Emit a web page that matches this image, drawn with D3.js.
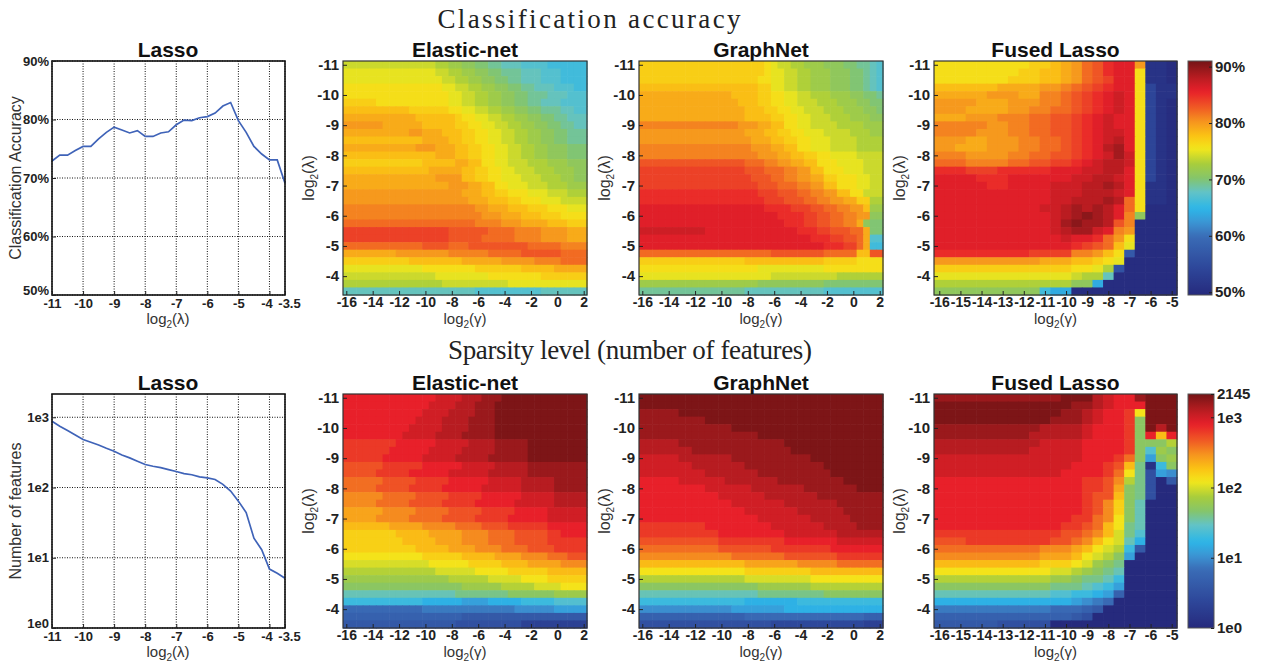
<!DOCTYPE html>
<html>
<head>
<meta charset="utf-8">
<script src="https://cdn.jsdelivr.net/npm/d3@7"></script>
<style>
body { margin: 0; background: #fff; }
text { font-family: "Liberation Sans", Arial, sans-serif; }
</style>
</head>
<body>
<svg id="chart" width="1266" height="667"></svg>
<script>
// ---- data ----
var lassoLambda = [-11, -10.75, -10.5, -10.25, -10, -9.75, -9.5, -9.25, -9, -8.75, -8.5, -8.25, -8, -7.75, -7.5, -7.25,
                   -7, -6.75, -6.5, -6.25, -6, -5.75, -5.5, -5.25, -5, -4.75, -4.5, -4.25, -4, -3.75, -3.5];
var lassoAcc = [72.9, 73.9, 73.9, 74.7, 75.4, 75.4, 76.7, 77.8, 78.7, 78.2, 77.7, 78.1, 77.1, 77.1, 77.7, 77.9,
                79.1, 79.9, 79.8, 80.3, 80.5, 81.1, 82.3, 82.9, 79.8, 77.8, 75.4, 74.1, 73.1, 73.1, 69.1];
var lassoFeat = [877, 745, 647, 561, 482, 441, 404, 362, 328, 291, 264, 237, 213, 201, 192, 180,
                 169, 158, 152, 142, 137, 130, 111, 89, 64, 44, 19, 13, 6.9, 6.0, 5.1];

var lambdaGrid = lassoLambda;   // heat-map rows, top = -11
var gammaGrid = [-16, -15.5, -15, -14.5, -14, -13.5, -13, -12.5, -12, -11.5, -11, -10.5, -10, -9.5, -9, -8.5, -8,
                 -7.5, -7, -6.5, -6, -5.5, -5, -4.5, -4, -3.5, -3, -2.5, -2, -1.5, -1, -0.5, 0, 0.5, 1, 1.5, 2];
var gammaFused = [-16, -15.5, -15, -14.5, -14, -13.5, -13, -12.5, -12, -11.5, -11, -10.5, -10, -9.5, -9, -8.5, -8,
                  -7.5, -7, -6.5, -6, -5.5, -5];

var lassoXTicks = [-11, -10, -9, -8, -7, -6, -5, -4, -3.5];
var accTicks = [50, 60, 70, 80, 90];
var featTicks = [1, 10, 100, 1000];
var featTickLabels = ['1e0', '1e1', '1e2', '1e3'];
var featBarTicks = [1, 10, 100, 1000, 2145];
var featBarLabels = ['1e0', '1e1', '1e2', '1e3', '2145'];
var lambdaTicks = [-11, -10, -9, -8, -7, -6, -5, -4];
var gammaTicks = [-16, -14, -12, -10, -8, -6, -4, -2, 0, 2];
var gammaFusedTicks = [-16, -15, -14, -13, -12, -11, -10, -9, -8, -7, -6, -5];

// heat-map cells, one row per lambda, run-length coded: level char + repeat count
// accuracy level char -> 50 + index (%)
var ACC_LEVELS = '0123456789abcdefghijklmnopqrstuvwxyzABCDEFG';
// sparsity level char -> 10^(index/10) features
var FEAT_LEVELS = '0123456789abcdefghijklmnopqrstuvwx';

var enAcc = [
  'o14 n2 m2 l2 k2 j2 i3 h4 g6', 'p14 o2 n2 m2 l2 k2 j3 i3 h3 g4', 'p15 o2 n2 m2 l2 k2 j2 i3 h3 g4',
  'q15 p2 o2 n2 m2 l2 k2 j2 i3 h3 g2', 'q16 p2 o2 n2 m2 l2 k2 j3 i3 h3', 'r5 q11 p2 o2 n2 m2 l2 k2 j2 i3 h4',
  's10 r6 q2 p2 o2 n2 m2 l2 k2 j3 i2 h2', 't11 s6 r1 q2 p2 o2 n2 m2 l2 k2 j2 i3',
  'u6 t6 s5 r2 q2 p2 o2 n2 m2 l2 k2 j2 i2', 't10 u2 t3 s3 r2 q2 p2 o2 n2 m2 l2 k2 j3',
  's12 t4 s2 r2 q2 p2 o2 n2 m2 l2 k2 j3', 't11 u3 t3 s2 r2 q2 p2 o2 n2 m2 l3 k3',
  's14 t3 s2 r2 q2 p2 o2 n2 m2 l3 k3', 'r12 s5 t2 s2 q2 p2 o3 n3 m3 l3', 's13 t5 s2 r2 q2 p2 o3 n3 m3 l2',
  't14 u4 s2 r2 q2 p3 o3 n3 m2 l2', 't16 u3 t2 s2 q2 p3 o3 n3 m3', 'u18 t3 s2 r2 q3 p3 o3 n3',
  'u19 t3 s3 r2 q3 p3 o4', 'v20 u2 t3 s3 r3 q3 p3', 'v21 u3 t3 s3 r3 q4', 'w20 v4 u3 t4 s3 r3',
  'y16 x6 w4 v4 u4 t3', 'y16 x5 w5 v4 u4 t3', 'w12 x4 w3 x9 w5 v4', 't8 u8 v6 w5 x6 w4',
  'r10 s8 t6 u5 v4 w4', 'p12 q8 r7 s5 t5', 'o14 p8 q8 r7', 'n15 o10 p12', 'i20 h10 i7'
];
var gnAcc = [
  'r19 q1 p1 o2 n2 m3 l3 k2 j2 i1 h1', 'r19 q1 p2 o2 n2 m3 l3 k2 j1 i1 h1', 'r18 q2 p2 o2 n2 m3 l3 k2 j1 i1 h1',
  's18 r2 p2 o2 n2 m3 l3 k2 j1 i1 h1', 't14 s4 r2 q2 p2 o2 n3 m3 l2 k2 j1', 't15 s3 r2 q2 p2 o3 n3 m3 l2 k2',
  't16 s3 r2 q2 p2 o3 n3 m3 l2 k1', 't16 s4 r2 q2 p2 o3 n3 m3 l2', 'v15 u3 t2 s2 q2 p2 o4 n4 m3',
  'u16 t3 s2 r2 q2 p3 o4 n3 m2', 'u17 t3 s2 r2 q2 p3 o4 n4', 'v17 u3 t2 s2 q2 p3 o4 n4',
  'v18 u3 t2 s2 r2 q2 p4 o4', 'x16 w3 v2 u2 t2 s2 q3 p4 o3', 'y16 x3 w3 v2 u2 s2 q3 p3 o3',
  'y17 x3 w2 v2 u2 t2 r2 q3 p2 o2', 'y18 x3 w3 v2 u2 s2 q3 p2 o2', 'z18 y3 x3 w2 v2 u2 s2 q2 o3',
  'z19 y3 x3 w2 v2 u2 t2 r2 n2', 'A19 z4 y3 x2 w2 v2 u2 s1 m2', 'A21 z4 y2 x2 w2 v2 u2 l2',
  'A22 z3 y2 x2 w2 v2 t1 l1 k2', 'B10 A14 z3 y2 x3 w2 t1 k2', 'A26 z3 y2 x2 w1 t1 h2',
  'A28 z3 y2 w1 t1 g2', 'w20 x8 w5 s2 x2', 'r16 s12 r5 q4', 'q18 p10 q9', 'p20 o10 n7',
  'm18 l10 k9', 'j16 i12 h9'
];
var flAcc = [
  'q9 r2 s1 t1 u1 w1 x1 z1 A2 u1 11 11 01', 'q8 r2 s2 t1 u1 w1 x1 z1 A2 q1 11 11 01',
  'q7 r3 s2 t1 u1 w1 x1 y1 A2 q1 11 11 01', 's6 t4 u2 v1 w1 x1 y1 z1 A2 q1 41 11 11',
  't5 u3 t2 v2 w1 x1 y1 z1 A1 B1 A1 q1 41 11 11', 'u4 t3 u3 v2 w1 x1 y1 z1 A1 B1 A1 q1 41 11 01',
  'u3 t4 u2 v2 w2 x1 y1 z1 A1 B1 A1 q1 41 11 01', 't3 u3 v3 w2 x2 y1 z1 A1 B1 A1 A1 q1 41 11 01',
  'v5 u2 v2 w2 x2 y1 z1 A1 B1 A1 A1 q1 41 11 01', 'v4 u3 v2 w2 x2 y1 z1 A1 B1 B1 A1 q1 41 11 01',
  'u3 t2 u3 v2 w2 x1 y1 z1 A1 B1 C1 A1 q1 41 11 01', 'u2 t3 u3 v2 w2 x1 y1 z1 A1 C1 D1 A1 q1 41 11 01',
  'v3 u4 v2 w2 x2 y1 z1 A1 B1 D1 B1 q1 41 11 01', 'w3 v4 w2 x2 y2 z1 A1 B1 C1 C1 B1 q1 41 11 01',
  'z3 y3 z3 z2 A2 A1 B1 B1 C1 C1 A1 q1 41 11 01', 'A4 z3 A4 A2 B1 B1 C1 C1 B1 A1 q1 41 11 01',
  'A5 z2 A4 B2 B1 C1 C1 D1 C1 A1 q1 11 11 01', 'A11 B2 B1 C1 C1 C1 B1 A1 q1 11 11 01',
  'A11 B2 C1 C1 C1 D1 C1 w1 q1 11 11 01', 'A10 B2 C1 D1 C1 D1 C1 A1 w1 q1 01 01 01',
  'A11 B1 C1 D1 E1 D1 C1 A1 v1 l1 01 01 01', 'A11 B1 D1 E1 D1 D1 C1 x1 v1 01 01 01 01',
  'A11 B1 C1 D1 D1 B1 A1 v1 u1 01 01 01 01', 'A12 B1 A1 A1 z1 w1 u1 q1 01 01 01 01',
  'A13 z1 y1 x1 w1 s1 p1 04', 'z9 y4 v2 u1 s1 q1 71 04', 'u10 t3 s2 r1 q1 p1 05',
  'r13 q2 p1 n1 61 05', 'p13 o1 n2 i1 06', 'n13 l2 e1 07', 'l10 g1 e2 010'
];
var enFeat = [
  't14 u4 v3 w3 x13', 't13 u4 v3 w3 x14', 't12 u4 v4 w3 x14', 't11 u4 v4 w4 x14', 't10 u5 v4 w4 x14',
  't9 u5 v4 w5 x14', 's8 t6 u5 v4 w5 x9', 's7 t6 u5 v5 w5 x9', 's6 t6 u5 v5 w6 x9', 'r6 s6 t6 u5 v5 w9',
  'r5 s5 t6 u6 v6 w9', 'q6 r5 s5 t6 u5 v5 w5', 'q5 r5 s5 t6 u6 v5 w5', 'p6 q5 r5 s5 t6 u5 v5',
  'p5 q5 r5 s5 t6 u6 v5', 'o6 p5 q5 r5 s5 t5 u6', 'o5 p5 q5 r5 s5 t6 u6', 'n7 o5 p5 q4 r4 s6 t6',
  'm8 n5 o5 p4 q4 r5 s2 t4', 'm9 n5 o4 p4 q4 r5 s6', 'm11 n5 o4 p4 q4 r4 s5', 'l12 m6 n5 o4 p4 q3 r3',
  'k13 l6 m5 n4 o5 p4', 'j14 k6 l5 m6 n6', 'i16 j6 k5 l4 m6', 'h18 i6 j5 k4 l4', 'f17 g8 h7 i5',
  'd12 c6 b4 c5 d5 e5', '812 914 a6 b5', '718 619', '617 510 310'
];
var gnFeat = [
  'x37', 'x37', 'w6 x31', 'w10 x27', 'w14 x23', 'w18 x19', 'v6 w16 x15', 'v8 w15 x14', 'u6 v8 w12 x11',
  'u8 v8 w12 x9', 'u10 v8 w11 x8', 't6 u7 v8 w10 x6', 't10 u7 v8 w8 x4', 't12 u7 v8 w10', 't14 u8 v8 w7',
  't16 u8 v7 w6', 't18 u8 v6 w5', 's10 t10 u8 v5 w4', 's12 t10 u8 v7', 'r12 s10 t8 u7', 'q12 r8 s9 t8',
  'p14 q8 r8 s7', 'n16 o8 p6 q7', 'l16 m10 n11', 'j16 k10 l11', 'h18 i8 j11', 'f18 g10 h9',
  'd16 c8 d13', 'a14 b8 c15', '716 818 73', '520 414 33'
];
var flFeat = [
  'w12 x3 v1 u1 t1 t1 w1 x3', 'x13 w2 v1 u1 t3 x3', 'x12 w2 v1 u1 t1 t1 s1 l1 x3',
  'x11 w3 v1 u1 t1 t1 s1 h1 x3', 'w10 v4 u1 t3 s1 h1 x1 v1 x1', 'w9 v5 u1 t3 s1 h1 t1 n1 t1',
  'v10 u4 t4 s1 h1 h1 h1 j1', 'v9 u5 t4 s1 h1 e1 i1 h1', 'u14 t2 t1 s1 q1 h1 b1 h1 i1',
  'u13 t3 s1 r1 n1 g1 11 d1 h1', 'u12 t4 s1 q1 l1 g1 51 b1 a1', 't14 s2 r1 p1 j1 g1 51 01 61',
  't14 s2 r1 o1 h1 g1 51 02', 't14 s1 r1 r1 n1 h1 g1 51 02', 't14 s1 r1 p1 m1 h1 f1 03',
  't14 s1 r1 p1 m1 h1 f1 03', 't13 s2 q1 p1 l1 h1 f1 03', 't12 s2 r1 q1 n1 l1 g1 f1 03',
  's12 r2 q1 p1 n1 k1 g1 e1 03', 'r3 s8 r2 q1 p1 n1 l1 k1 f1 c1 03', 'q10 p3 o1 n1 l1 k1 j1 d1 61 03',
  'p10 o3 n1 l1 k1 j1 h1 b1 04', 'n10 m3 l1 k1 i1 h1 g1 05', 'l11 k2 j1 i1 h1 g1 f1 05',
  'j11 i2 h1 g1 g1 f1 d1 05', 'h11 g2 g1 f1 e1 d1 b1 05', 'f11 e2 d1 d1 c1 b1 71 05',
  'c11 c2 b1 a1 91 81 06', '911 82 81 71 61 07', '713 61 51 08', '66 55 012'
];

// ---- colour map (printed jet) ----
var CMAP_POS = [0, 0.12, 0.25, 0.31, 0.37, 0.44, 0.5, 0.56, 0.625, 0.68, 0.74, 0.8, 0.87, 0.93, 1];
var CMAP_COL = ['#262a7d', '#2e489b', '#3a6cb6', '#3b95d4', '#2cb6e8', '#62c3c6', '#85c56a', '#a8cd3c',
                '#f3e71b', '#fbc314', '#f6951e', '#f05b24', '#e8202a', '#b81c21', '#741416'];
var cmap = d3.scaleLinear().domain(CMAP_POS).range(CMAP_COL).clamp(true);
var accT = d3.scaleLinear().domain([49.5, 91]).range([0, 1]);
var featT = d3.scaleLog().domain([1, 2145]).range([0, 1]).clamp(true);

function decodeRows(rows, levels, n) {
  return rows.map(function(row) {
    var out = [];
    row.trim().split(/\s+/).forEach(function(tok) {
      var lv = levels.indexOf(tok[0]);
      var cnt = tok.length > 1 ? +tok.slice(1) : 1;
      for (var i = 0; i < cnt; i++) out.push(lv);
    });
    if (out.length !== n) console.warn('row length', out.length, row);
    while (out.length < n) out.push(out[out.length - 1]);
    return out.slice(0, n);
  });
}
function accOf(l) { return 50 + l; }
function featOf(l) { return Math.pow(10, l / 10); }

var svg = d3.select('#chart');
var TOPS = [61, 394], PH = 234;
var SERIF = '"Liberation Serif", "DejaVu Serif", serif';
// MATLAB style labels use a plain hyphen for negatives
var fmtTick = function(d) { return String(d); };

function logLabel(t, sym) {
  t.append('tspan').text('log');
  t.append('tspan').attr('font-size', 10).attr('dy', 4).text('2');
  t.append('tspan').attr('dy', -4).text('(' + sym + ')');
}
function styleAxis(g, size) {
  g.select('.domain').remove();
  g.selectAll('.tick line').attr('stroke', '#222');
  g.selectAll('.tick text').attr('font-size', size).attr('font-weight', 'bold').attr('fill', '#222')
    .style('font-family', '"Liberation Sans", Arial, sans-serif');
}

// ---- titles ----
svg.append('text').attr('x', 589).attr('y', 28).attr('text-anchor', 'middle')
  .style('font-family', SERIF).attr('font-size', 27)
  .attr('textLength', 303).attr('lengthAdjust', 'spacing').attr('fill', '#222').text('Classification accuracy');
svg.append('text').attr('x', 630).attr('y', 359).attr('text-anchor', 'middle')
  .style('font-family', SERIF).attr('font-size', 27)
  .attr('textLength', 364).attr('lengthAdjust', 'spacing').attr('fill', '#222').text('Sparsity level (number of features)');

function panelTitle(cx, top, txt) {
  svg.append('text').attr('x', cx).attr('y', top - 4).attr('text-anchor', 'middle')
    .attr('font-size', 21).attr('font-weight', 'bold').attr('fill', '#111').text(txt);
}

// ---- Lasso line plots ----
function drawLasso(opt) {
  var top = opt.top, bottom = opt.top + PH;
  var x = d3.scaleLinear().domain([-11, -3.5]).range([52, 285]);
  var y = opt.yScale.range([bottom, top]);
  var g = svg.append('g');
  g.selectAll('line.vg').data(lassoXTicks).enter().append('line')
    .attr('x1', d => x(d)).attr('x2', d => x(d)).attr('y1', top).attr('y2', bottom)
    .attr('stroke', '#111').attr('stroke-width', 1).attr('stroke-dasharray', '1,1.5');
  g.selectAll('line.hg').data(opt.yTicks).enter().append('line')
    .attr('x1', 52).attr('x2', 285).attr('y1', d => y(d)).attr('y2', d => y(d))
    .attr('stroke', '#111').attr('stroke-width', 1).attr('stroke-dasharray', '1,1.5');
  g.append('path').datum(opt.values)
    .attr('d', d3.line().x((d, i) => x(lassoLambda[i])).y(d => y(d)))
    .attr('fill', 'none').attr('stroke', '#3f63b8').attr('stroke-width', 1.7);
  g.append('rect').attr('x', 52).attr('y', top).attr('width', 233).attr('height', PH)
    .attr('fill', 'none').attr('stroke', '#111').attr('stroke-width', 1.6);
  var xa = g.append('g').attr('transform', 'translate(0,' + bottom + ')')
    .call(d3.axisBottom(x).tickValues(lassoXTicks).tickSize(-4).tickPadding(4).tickFormat(fmtTick));
  styleAxis(xa, 13);
  // the last two labels sit side by side, as in the figure
  xa.selectAll('.tick text').attr('dx', d => d === -4 ? -3 : d === -3.5 ? 4 : 0);
  var ya = g.append('g').attr('transform', 'translate(52,0)')
    .call(d3.axisLeft(y).tickValues(opt.yTicks).tickSize(-4).tickPadding(3)
      .tickFormat((d, i) => opt.yLabels[i]));
  styleAxis(ya, 13);
  ya.selectAll('.tick text').attr('dy', (d, i) => i === 0 ? '-0.05em' : '0.32em');
  var xl = g.append('text').attr('x', 168).attr('y', bottom + 29).attr('text-anchor', 'middle')
    .attr('font-size', 15).attr('fill', '#333');
  logLabel(xl, '\u03bb');
  g.append('text').attr('transform', 'translate(21,' + (top + PH / 2) + ') rotate(-90)')
    .attr('text-anchor', 'middle').attr('font-size', 16).attr('fill', '#333').text(opt.ylabel);
  panelTitle(168, top, 'Lasso');
}

drawLasso({ top: TOPS[0], yScale: d3.scaleLinear().domain([50, 90]), values: lassoAcc,
  yTicks: accTicks, yLabels: accTicks.map(d => d + '%'), ylabel: 'Classification Accuracy' });
drawLasso({ top: TOPS[1], yScale: d3.scaleLog().domain([1, 2145]), values: lassoFeat,
  yTicks: featTicks, yLabels: featTickLabels, ylabel: 'Number of features' });

// ---- heat maps ----
function drawHeat(opt) {
  var top = opt.top, bottom = top + PH;
  var x = d3.scaleLinear().domain(opt.xDomain).range(opt.xRange);
  var y = d3.scaleLinear().domain([-11.125, -3.375]).range([top, bottom]);
  var grid = decodeRows(opt.rows, opt.levels, opt.gamma.length);
  var cells = [];
  grid.forEach(function(row, r) {
    row.forEach(function(lv, c) {
      cells.push({ lam: lambdaGrid[r], gam: opt.gamma[c], v: opt.valueOf(lv) });
    });
  });
  var g = svg.append('g');
  g.selectAll('rect.cell').data(cells).enter().append('rect')
    .attr('x', d => x(d.gam - 0.25)).attr('y', d => y(d.lam - 0.125))
    .attr('width', d => x(d.gam + 0.25) - x(d.gam - 0.25) + 0.6)
    .attr('height', d => y(d.lam + 0.125) - y(d.lam - 0.125) + 0.6)
    .attr('fill', d => cmap(opt.toUnit(d.v)));
  g.append('rect').attr('x', opt.xRange[0]).attr('y', top)
    .attr('width', opt.xRange[1] - opt.xRange[0]).attr('height', PH)
    .attr('fill', 'none').attr('stroke', '#333').attr('stroke-width', 1.2);
  var xa = g.append('g').attr('transform', 'translate(0,' + bottom + ')')
    .call(d3.axisBottom(x).tickValues(opt.xTicks).tickSize(-4).tickPadding(2).tickFormat(fmtTick));
  styleAxis(xa, 14);
  var ya = g.append('g').attr('transform', 'translate(' + opt.xRange[0] + ',0)')
    .call(d3.axisLeft(y).tickValues(lambdaTicks).tickSize(-4).tickPadding(4).tickFormat(fmtTick));
  styleAxis(ya, 15);
  var cx = (opt.xRange[0] + opt.xRange[1]) / 2;
  var xl = g.append('text').attr('x', cx).attr('y', bottom + 29).attr('text-anchor', 'middle')
    .attr('font-size', 15).attr('fill', '#333');
  logLabel(xl, '\u03b3');
  var yl = g.append('text').attr('transform', 'translate(' + (opt.xRange[0] - 29) + ',' + (top + PH / 2) + ') rotate(-90)')
    .attr('text-anchor', 'middle').attr('font-size', 16).attr('fill', '#333');
  logLabel(yl, '\u03bb');
  panelTitle(cx, top, opt.title);
}

var heatCols = [
  { title: 'Elastic-net', xRange: [343, 587], gamma: gammaGrid, xDomain: [-16.25, 2.25], xTicks: gammaTicks,
    acc: enAcc, feat: enFeat },
  { title: 'GraphNet', xRange: [639, 883], gamma: gammaGrid, xDomain: [-16.25, 2.25], xTicks: gammaTicks,
    acc: gnAcc, feat: gnFeat },
  { title: 'Fused Lasso', xRange: [934, 1177], gamma: gammaFused, xDomain: [-16.25, -4.75], xTicks: gammaFusedTicks,
    acc: flAcc, feat: flFeat }
];
heatCols.forEach(function(h) {
  drawHeat({ top: TOPS[0], title: h.title, xRange: h.xRange, gamma: h.gamma, xDomain: h.xDomain, xTicks: h.xTicks,
    rows: h.acc, levels: ACC_LEVELS, valueOf: accOf, toUnit: accT });
  drawHeat({ top: TOPS[1], title: h.title, xRange: h.xRange, gamma: h.gamma, xDomain: h.xDomain, xTicks: h.xTicks,
    rows: h.feat, levels: FEAT_LEVELS, valueOf: featOf, toUnit: featT });
});

// ---- colour bars ----
var defs = svg.append('defs');
var grad = defs.append('linearGradient').attr('id', 'cbar').attr('x1', 0).attr('y1', 1).attr('x2', 0).attr('y2', 0);
grad.selectAll('stop').data(d3.range(0, 1.0001, 0.02)).enter().append('stop')
  .attr('offset', d => d).attr('stop-color', d => cmap(d));

function drawBar(top, x0, x1, scale, ticks, labels) {
  var g = svg.append('g');
  var y = scale.range([top + PH, top]);
  g.append('rect').attr('x', x0).attr('y', top).attr('width', x1 - x0).attr('height', PH)
    .attr('fill', 'url(#cbar)').attr('stroke', '#555').attr('stroke-width', 1);
  var ax = g.append('g').attr('transform', 'translate(' + x1 + ',0)')
    .call(d3.axisRight(y).tickValues(ticks).tickSize(-3).tickPadding(3).tickFormat((d, i) => labels[i]));
  styleAxis(ax, 15);
}
drawBar(TOPS[0], 1188, 1212, d3.scaleLinear().domain([49.5, 91]), accTicks, accTicks.map(d => d + '%'));
drawBar(TOPS[1], 1188, 1214, d3.scaleLog().domain([1, 2145]), featBarTicks, featBarLabels);
</script>
</body>
</html>
